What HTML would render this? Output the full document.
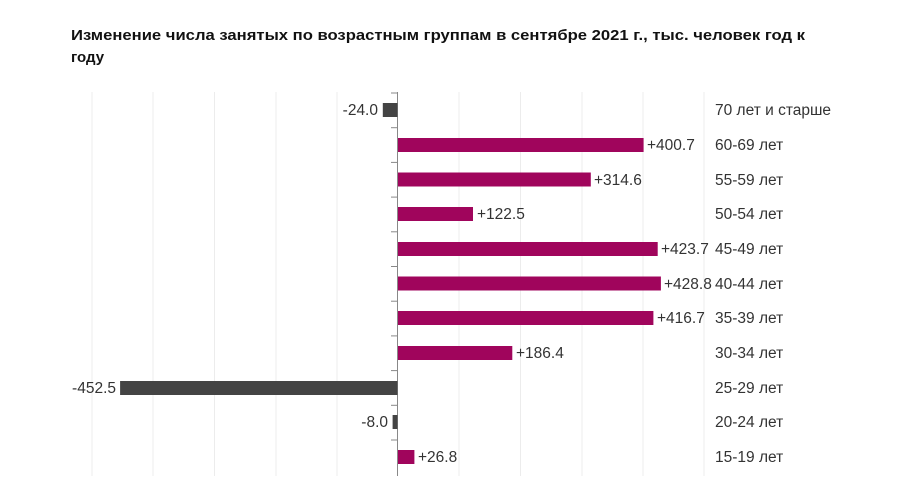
<!DOCTYPE html>
<html><head><meta charset="utf-8"><style>
body{margin:0;background:#fff;width:897px;height:482px;overflow:hidden;font-family:"Liberation Sans",sans-serif}
</style></head><body>
<svg width="897" height="482" xmlns="http://www.w3.org/2000/svg" font-family="Liberation Sans, sans-serif">
<text x="71" y="40" font-size="15" font-weight="bold" fill="#111" textLength="734" lengthAdjust="spacingAndGlyphs">Изменение числа занятых по возрастным группам в сентябре 2021 г., тыс. человек год к</text>
<text x="71" y="62" font-size="15" font-weight="bold" fill="#111">году</text>
<g stroke="#ececec" stroke-width="1">
<line x1="92" y1="92" x2="92" y2="476"/><line x1="153" y1="92" x2="153" y2="476"/>
<line x1="214.5" y1="92" x2="214.5" y2="476"/><line x1="276" y1="92" x2="276" y2="476"/>
<line x1="337" y1="92" x2="337" y2="476"/><line x1="459" y1="92" x2="459" y2="476"/>
<line x1="520.5" y1="92" x2="520.5" y2="476"/><line x1="582" y1="92" x2="582" y2="476"/>
<line x1="643" y1="92" x2="643" y2="476"/><line x1="704" y1="92" x2="704" y2="476"/>
</g>
<line x1="397.5" y1="92" x2="397.5" y2="476" stroke="#888" stroke-width="1"/>
<g stroke="#888">
<line x1="391" y1="93" x2="397" y2="93"/><line x1="391" y1="127.7" x2="397" y2="127.7"/><line x1="391" y1="162.4" x2="397" y2="162.4"/><line x1="391" y1="197.1" x2="397" y2="197.1"/><line x1="391" y1="231.8" x2="397" y2="231.8"/><line x1="391" y1="266.5" x2="397" y2="266.5"/><line x1="391" y1="301.2" x2="397" y2="301.2"/><line x1="391" y1="335.9" x2="397" y2="335.9"/><line x1="391" y1="370.6" x2="397" y2="370.6"/><line x1="391" y1="405.3" x2="397" y2="405.3"/><line x1="391" y1="440" x2="397" y2="440"/>
</g>
<g font-size="15.5" fill="#333">
<rect x="382.8" y="103" width="14.7" height="14" fill="#444"/><text x="378" y="115" text-anchor="end">-24.0</text><text x="715" y="115">70 лет и старше</text>
<rect x="398" y="138" width="245.6" height="14" fill="#a0055c"/><text x="647" y="150">+400.7</text><text x="715" y="150">60-69 лет</text>
<rect x="398" y="172.5" width="192.8" height="14" fill="#a0055c"/><text x="594" y="185">+314.6</text><text x="715" y="185">55-59 лет</text>
<rect x="398" y="207" width="75" height="14" fill="#a0055c"/><text x="477" y="219">+122.5</text><text x="715" y="219">50-54 лет</text>
<rect x="398" y="242" width="259.7" height="14" fill="#a0055c"/><text x="661" y="254">+423.7</text><text x="715" y="254">45-49 лет</text>
<rect x="398" y="276.5" width="262.9" height="14" fill="#a0055c"/><text x="664" y="289">+428.8</text><text x="715" y="289">40-44 лет</text>
<rect x="398" y="311" width="255.4" height="14" fill="#a0055c"/><text x="657" y="323">+416.7</text><text x="715" y="323">35-39 лет</text>
<rect x="398" y="346" width="114.3" height="14" fill="#a0055c"/><text x="516" y="358">+186.4</text><text x="715" y="358">30-34 лет</text>
<rect x="120.1" y="381" width="277.4" height="14" fill="#444"/><text x="116" y="393" text-anchor="end">-452.5</text><text x="715" y="393">25-29 лет</text>
<rect x="392.6" y="415" width="4.9" height="14" fill="#444"/><text x="388" y="427" text-anchor="end">-8.0</text><text x="715" y="427">20-24 лет</text>
<rect x="398" y="450" width="16.4" height="14" fill="#a0055c"/><text x="418" y="462">+26.8</text><text x="715" y="462">15-19 лет</text>
</g>
</svg>
</body></html>
